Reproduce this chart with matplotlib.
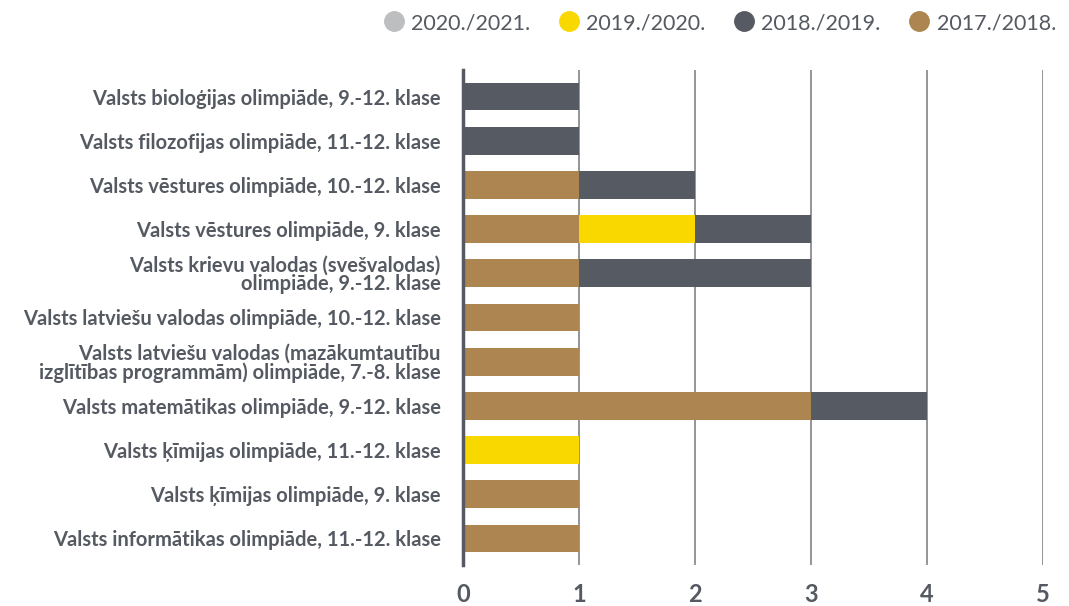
import matplotlib.pyplot as plt
from matplotlib.lines import Line2D
import numpy as np

categories = [
    "Valsts bioloģijas olimpiāde, 9.-12. klase",
    "Valsts filozofijas olimpiāde, 11.-12. klase",
    "Valsts vēstures olimpiāde, 10.-12. klase",
    "Valsts vēstures olimpiāde, 9. klase",
    "Valsts krievu valodas (svešvalodas)\nolimpiāde, 9.-12. klase",
    "Valsts latviešu valodas olimpiāde, 10.-12. klase",
    "Valsts latviešu valodas (mazākumtautību\nizglītības programmām) olimpiāde, 7.-8. klase",
    "Valsts matemātikas olimpiāde, 9.-12. klase",
    "Valsts ķīmijas olimpiāde, 11.-12. klase",
    "Valsts ķīmijas olimpiāde, 9. klase",
    "Valsts informātikas olimpiāde, 11.-12. klase",
]

# stacking order left to right as drawn in the original
y2017 = [0, 0, 1, 1, 1, 1, 1, 3, 0, 1, 1]
y2019 = [0, 0, 0, 1, 0, 0, 0, 0, 1, 0, 0]
y2018 = [1, 1, 1, 1, 2, 0, 0, 1, 0, 0, 0]
y2020 = [0, 0, 0, 0, 0, 0, 0, 0, 0, 0, 0]

series = [
    ("2017./2018.", y2017, "#ad8550"),
    ("2019./2020.", y2019, "#f9d800"),
    ("2018./2019.", y2018, "#565a62"),
    ("2020./2021.", y2020, "#bcbec0"),
]
legend_order = ["2020./2021.", "2019./2020.", "2018./2019.", "2017./2018."]

plt.rcParams['font.family'] = ['Lato', 'DejaVu Sans']
text_col = "#555a62"

fig = plt.figure(figsize=(10.69, 6.06), dpi=100)
ax = fig.add_axes([0.433, 0.0677, 0.5427, 0.8168])

ypos = np.arange(len(categories))
left = np.zeros(len(categories))
for name, vals, col in series:
    vals = np.array(vals, dtype=float)
    ax.barh(ypos, vals, left=left, height=0.63, color=col, zorder=3)
    left += vals

ax.set_xlim(0, 5)
ax.set_ylim(len(categories) - 0.4, -0.6)
ax.set_xticks(range(6))
ax.set_yticks(ypos)
ax.set_yticklabels(categories, fontsize=14.5, fontweight='bold', color=text_col,
                   linespacing=0.95)
ax.tick_params(axis='y', length=0, pad=16)
ax.tick_params(axis='x', length=0, pad=13, labelsize=17, labelcolor=text_col)
for lbl in ax.get_xticklabels():
    lbl.set_fontweight('bold')

ax.grid(axis='x', color='#8a8c90', linewidth=1.3, zorder=0)
ax.set_axisbelow(True)
for s in ['top', 'right', 'bottom']:
    ax.spines[s].set_visible(False)
ax.spines['left'].set_color('#555a62')
ax.spines['left'].set_linewidth(2.5)
ax.spines['left'].set_zorder(4)

colors = {n: c for n, _, c in series}
handles = [Line2D([], [], marker='o', linestyle='', markersize=14,
                  markerfacecolor=colors[n], markeredgecolor=colors[n])
           for n in legend_order]
fig.legend(handles, legend_order, loc='center right', bbox_to_anchor=(1.006, 0.962),
           ncol=4, frameon=False, fontsize=15.5, labelcolor=text_col,
           handletextpad=0.2, columnspacing=1.2, handlelength=1.2)

fig.savefig("out.png", dpi=100)
